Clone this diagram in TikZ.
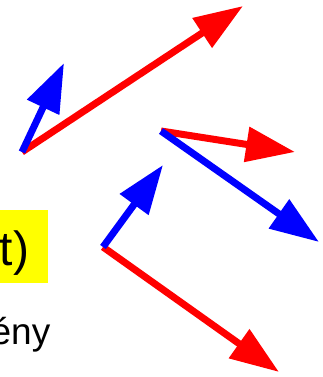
\documentclass[tikz,border=0pt]{standalone}
\usepackage{fontspec}
\setmainfont{Liberation Sans}
\usetikzlibrary{arrows.meta}
\tikzset{
  vec/.style={line width=7pt, -{Triangle[length=49pt,width=34pt]}},
  redvec/.style={vec, draw={rgb,255:red,255;green,0;blue,0}},
  bluevec/.style={vec, draw={rgb,255:red,0;green,0;blue,255}},
  bigtext/.style={font=\fontsize{48}{58}\selectfont, inner sep=0pt, anchor=base east},
  smalltext/.style={font=\fontsize{37}{44}\selectfont, inner sep=0pt, anchor=base east}
}
\definecolor{hl}{RGB}{255,255,0}
\begin{document}
\begin{tikzpicture}[x=1pt,y=-1pt]
\useasboundingbox (0,0) rectangle (322,377);
\clip (0,0) rectangle (322,377);
% yellow highlight box with text
\node (box) [fill=hl, minimum width=120pt, minimum height=73pt, inner sep=0pt, anchor=north east] at (48,210) {};
\node (t) [bigtext] at (29.5,265) {t)};
\node (eny) [smalltext] at (50.5,344) {ény};
% group 1
\coordinate (o1) at (22,152);
\coordinate (r1) at (243,6);
\coordinate (b1) at (64,63);
\draw[redvec] (o1) -- (r1);
\draw[bluevec] (o1) -- (b1);
% group 2
\coordinate (o2) at (161,131);
\coordinate (r2) at (295,152);
\coordinate (b2) at (319,242);
\draw[redvec] (o2) -- (r2);
\draw[bluevec] (o2) -- (b2);
% group 3
\coordinate (o3) at (103,247);
\coordinate (b3) at (163,165);
\coordinate (r3) at (279,372);
\draw[redvec] (o3) -- (r3);
\draw[bluevec] (o3) -- (b3);
\end{tikzpicture}
\end{document}
